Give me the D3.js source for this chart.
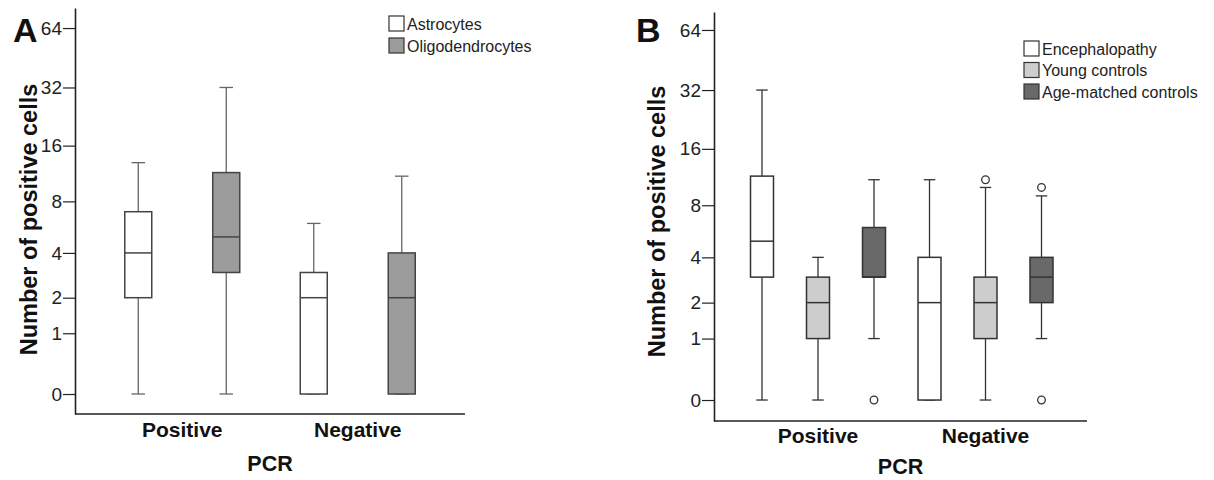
<!DOCTYPE html>
<html>
<head>
<meta charset="utf-8">
<script src="https://cdn.jsdelivr.net/npm/d3@7"></script>
<style>
    body { margin: 0; background: #fff; }
    svg  { font-family: "Liberation Sans", Arial, sans-serif; }
    .boldtext { font-weight: bold; fill: #111; }
</style>
</head>
<body>
<svg id="chart" width="1214" height="480"></svg>
<script>

// categories and tick labels
var pcrCategories = ["Positive", "Negative"];
var yTicks        = [0, 1, 2, 4, 8, 16, 32, 64];

// panel A series: [min, q1, median, q3, max] per PCR category
var seriesA          = ["Astrocytes", "Oligodendrocytes"];
var astrocytes       = [[0, 2, 4, 7, 13],    [0, 0, 2, 3, 6]];
var oligodendrocytes = [[0, 3, 5, 11.5, 32], [0, 0, 2, 4, 11]];

// panel B series
var seriesB            = ["Encephalopathy", "Young controls", "Age-matched controls"];
var encephalopathy     = [[0, 3, 5, 11.5, 32], [0, 0, 2, 4, 11]];
var youngControls      = [[0, 1, 2, 3, 4],     [0, 1, 2, 3, 10]];
var ageMatchedControls = [[1, 3, 3, 6, 11],    [1, 2, 3, 4, 9]];

// outliers per PCR category
var encephalopathyOutliers = [[], []];
var youngOutliers          = [[], [11]];
var ageMatchedOutliers     = [[0], [0, 10]];

var svg = d3.select("#chart");

function drawPanel(p) {
    var g = svg.append("g");

    var y = d3.scaleSymlog().constant(1)
        .domain(p.yDomain)
        .range([p.bottom, p.top]);
    var x = d3.scaleBand()
        .domain(pcrCategories)
        .range(p.xRange);
    var xInner = d3.scalePoint()
        .domain(p.series)
        .range([-p.innerHalf, p.innerHalf]);

    // y axis
    var yAxis = g.append("g")
        .attr("transform", "translate(" + p.axisX + ",0)")
        .call(d3.axisLeft(y).tickValues(yTicks).tickSize(12).tickSizeOuter(0).tickPadding(1));
    yAxis.select(".domain").attr("stroke", "#222").attr("stroke-width", 1.6);
    yAxis.selectAll(".tick line").attr("stroke", "#222").attr("stroke-width", 1.2);
    yAxis.selectAll(".tick text")
        .attr("font-size", 19)
        .attr("fill", "#222")
        .style("font-family", "Liberation Sans, Arial, sans-serif");

    // x axis line
    g.append("line")
        .attr("x1", p.axisX)
        .attr("x2", p.xEnd)
        .attr("y1", p.bottom)
        .attr("y2", p.bottom)
        .attr("stroke", "#222")
        .attr("stroke-width", 1.6);

    var xAxis = g.append("g")
        .attr("transform", "translate(0," + p.bottom + ")")
        .call(d3.axisBottom(x).tickSize(0).tickPadding(p.catPad));
    xAxis.select(".domain").remove();
    xAxis.selectAll(".tick text")
        .attr("class", "boldtext")
        .attr("font-size", 21)
        .style("font-family", "Liberation Sans, Arial, sans-serif");

    // axis titles
    g.append("text")
        .attr("x", (p.axisX + p.xEnd) / 2)
        .attr("y", p.pcrY)
        .attr("text-anchor", "middle")
        .attr("font-size", 21.5)
        .attr("class", "boldtext")
        .text("PCR");
    g.append("text")
        .attr("transform", "translate(" + p.titleX + "," + p.titleY + ") rotate(-90)")
        .attr("text-anchor", "middle")
        .attr("font-size", 23.5)
        .attr("class", "boldtext")
        .text("Number of positive cells");
    g.append("text")
        .attr("x", p.letterX)
        .attr("y", 42)
        .attr("font-size", 34)
        .attr("class", "boldtext")
        .text(p.letter);

    // boxes
    var cw = p.boxW / 2;
    p.series.forEach(function(s, si) {
        var stats = p.values[si];
        var bg = g.append("g");
        var boxes = bg.selectAll(".box").data(stats).enter().append("g");
        var cx = function(d, i) { return x(pcrCategories[i]) + x.bandwidth() / 2 + xInner(s); };
        boxes.each(function(d, i) {
            var c   = cx(d, i);
            var bx  = d3.select(this);
            // whiskers
            bx.append("line")
                .attr("x1", c).attr("x2", c)
                .attr("y1", y(d[3])).attr("y2", y(d[4]))
                .attr("stroke", p.whisker).attr("stroke-width", 1.3);
            bx.append("line")
                .attr("x1", c).attr("x2", c)
                .attr("y1", y(d[1])).attr("y2", y(d[0]))
                .attr("stroke", p.whisker).attr("stroke-width", 1.3);
            bx.append("line")
                .attr("x1", c - cw / 2).attr("x2", c + cw / 2)
                .attr("y1", y(d[4])).attr("y2", y(d[4]))
                .attr("stroke", p.whisker).attr("stroke-width", 1.3);
            bx.append("line")
                .attr("x1", c - cw / 2).attr("x2", c + cw / 2)
                .attr("y1", y(d[0])).attr("y2", y(d[0]))
                .attr("stroke", p.whisker).attr("stroke-width", 1.3);
            // box
            bx.append("rect")
                .attr("x", c - cw)
                .attr("width", p.boxW)
                .attr("y", y(d[3]))
                .attr("height", y(d[1]) - y(d[3]))
                .attr("fill", p.fills[si])
                .attr("stroke", p.boxStroke)
                .attr("stroke-width", 1.5);
            bx.append("line")
                .attr("x1", c - cw).attr("x2", c + cw)
                .attr("y1", y(d[2])).attr("y2", y(d[2]))
                .attr("stroke", p.boxStroke).attr("stroke-width", 1.5);
            // outliers
            if (p.outliers) {
                bx.selectAll(".outlier").data(p.outliers[si][i]).enter().append("circle")
                    .attr("cx", c)
                    .attr("cy", function(o) { return y(o); })
                    .attr("r", 3.8)
                    .attr("fill", "#fff")
                    .attr("stroke", "#333")
                    .attr("stroke-width", 1.3);
            }
        });
    });

    // legend
    var leg = g.selectAll(".legend").data(p.series).enter().append("g")
        .attr("transform", function(d, i) { return "translate(" + p.legX + "," + (p.legY + i * p.legStep) + ")"; });
    leg.append("rect")
        .attr("width", 15)
        .attr("height", 15)
        .attr("fill", function(d, i) { return p.fills[i]; })
        .attr("stroke", "#333")
        .attr("stroke-width", 1.2);
    leg.append("text")
        .attr("x", 18)
        .attr("y", 13.5)
        .attr("font-size", 16)
        .attr("fill", "#222")
        .text(function(d) { return d; });
}

drawPanel({
    letter: "A", letterX: 13,
    axisX: 75, xEnd: 465, top: 8, bottom: 414,
    yDomain: [-0.256, 80.7],
    xRange: [94.5, 445.5], innerHalf: 44, boxW: 27,
    catPad: 8, pcrY: 471, titleX: 37, titleY: 219.5,
    series: seriesA,
    values: [astrocytes, oligodendrocytes],
    fills: ["#ffffff", "#9c9c9c"],
    whisker: "#666", boxStroke: "#444",
    legX: 389, legY: 16, legStep: 22
});

drawPanel({
    letter: "B", letterX: 636,
    axisX: 714, xEnd: 1087, top: 12, bottom: 421,
    yDomain: [-0.267, 78.6],
    xRange: [734.25, 1069.25], innerHalf: 56, boxW: 23,
    catPad: 7, pcrY: 474, titleX: 665, titleY: 221.5,
    series: seriesB,
    values: [encephalopathy, youngControls, ageMatchedControls],
    outliers: [encephalopathyOutliers, youngOutliers, ageMatchedOutliers],
    fills: ["#ffffff", "#cdcdcd", "#696969"],
    whisker: "#333", boxStroke: "#333",
    legX: 1024, legY: 41, legStep: 21.5
});

</script>
</body>
</html>
